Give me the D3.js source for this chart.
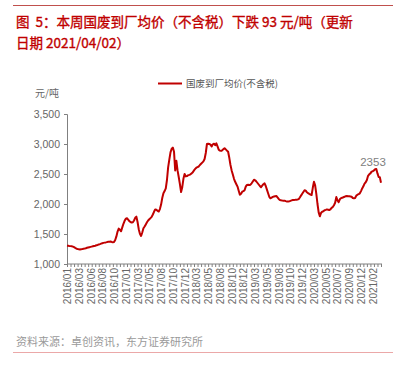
<!DOCTYPE html>
<html>
<head>
<meta charset="utf-8">
<script src="https://cdn.jsdelivr.net/npm/d3@7"></script>
<style>
  body { margin: 0; background: #fff; }
  svg text { font-family: "Liberation Sans", Arial, "Noto Sans CJK SC", sans-serif; }
  .cjk { font-family: "Noto Sans CJK SC", sans-serif; }
</style>
</head>
<body>
<div id="chart"></div>
<script>
// weekly price, yuan/ton
var price = [
  1305,1303,1300,1298,1295,1290,1280,1268,1258,1248,
  1245,1242,1245,1248,1255,1258,1263,1270,1275,1280,
  1285,1290,1295,1300,1305,1312,1318,1325,1332,1340,
  1346,1352,1356,1360,1365,1370,1372,1375,1368,1362,
  1365,1400,1460,1540,1590,1570,1545,1610,1670,1720,
  1755,1762,1740,1715,1700,1690,1695,1725,1770,1790,
  1700,1580,1505,1467,1525,1595,1625,1660,1695,1725,
  1745,1765,1785,1825,1870,1910,1905,1885,1875,1915,
  1990,2100,2180,2215,2260,2400,2610,2740,2860,2920,
  2940,2870,2560,2720,2560,2450,2330,2200,2280,2420,
  2500,2460,2465,2480,2485,2495,2510,2530,2560,2585,
  2605,2615,2625,2650,2670,2690,2710,2750,2850,3000,
  3005,3000,2990,2960,2995,3005,2980,3010,2960,2905,
  2890,2885,2895,2915,2930,2910,2890,2870,2770,2650,
  2560,2490,2420,2370,2330,2290,2220,2155,2170,2205,
  2215,2230,2290,2318,2320,2316,2322,2345,2375,2405,
  2395,2375,2350,2325,2300,2280,2305,2330,2345,2300,
  2240,2180,2120,2095,2105,2118,2125,2130,2133,2110,
  2085,2068,2062,2058,2056,2056,2048,2042,2040,2045,
  2052,2060,2066,2068,2069,2071,2075,2082,2108,2140,
  2170,2200,2230,2222,2195,2180,2168,2158,2150,2270,
  2370,2310,2170,2000,1860,1795,1850,1872,1878,1895,
  1902,1910,1905,1900,1910,1935,1950,1980,2020,2115,
  2060,2030,2078,2098,2105,2112,2120,2130,2133,2131,
  2128,2125,2120,2100,2094,2100,2140,2155,2165,2178,
  2215,2260,2295,2340,2362,2400,2470,2495,2510,2540,
  2545,2560,2578,2582,2510,2450,2446,2353
];

// one label every 10 weeks
var tickLabels = [
  "2016/01","2016/03","2016/06","2016/08","2016/10","2017/01","2017/03",
  "2017/05","2017/08","2017/10","2017/12","2018/03","2018/05","2018/08",
  "2018/10","2018/12","2019/03","2019/05","2019/08","2019/10","2019/12",
  "2020/03","2020/05","2020/07","2020/09","2020/12","2021/02"
];

var yTicks = [1000, 1500, 2000, 2500, 3000, 3500];

var seriesName = "国废到厂均价(不含税)";
var titleLines = ["图\u00a0 5：本周国废到厂均价（不含税）下跌 93 元/吨（更新", "日期 2021/04/02）"];
var sourceText = "资料来源：卓创资讯，东方证券研究所";

var width = 400, height = 370;
var red = "#c00000";

var svg = d3.select("#chart").append("svg")
    .attr("width", width)
    .attr("height", height);

// top rule + title
svg.append("line")
    .attr("x1", 13).attr("x2", 393)
    .attr("y1", 5.5).attr("y2", 5.5)
    .attr("stroke", "#c0504d").attr("stroke-width", 1);

svg.selectAll(".title")
    .data(titleLines)
  .enter().append("text")
    .attr("class", "title cjk")
    .attr("x", 16)
    .attr("y", function(d, i) { return 26.5 + i * 21; })
    .attr("fill", red)
    .attr("stroke", red)
    .attr("stroke-width", 0.35)
    .style("font-size", "13.5px")
    .text(function(d) { return d; });

// scales
var x = d3.scalePoint()
    .domain(d3.range(price.length))
    .range([67, 381]);

var y = d3.scaleLinear()
    .domain([1000, 3500])
    .range([264, 114]);

// y axis
var yAxis = svg.append("g")
    .attr("transform", "translate(67,0)")
    .call(d3.axisLeft(y).tickValues(yTicks).tickSize(3).tickPadding(4).tickFormat(d3.format(",")));
yAxis.select(".domain").attr("stroke", "#808080");
yAxis.selectAll(".tick line").attr("stroke", "#808080");
yAxis.selectAll("text").attr("fill", "#666").style("font-size", "10.5px");

svg.append("text")
    .attr("class", "cjk")
    .attr("x", 35).attr("y", 97)
    .attr("fill", "#666")
    .style("font-size", "10px")
    .text("元/吨");

// x axis: minor ticks
var xMinor = svg.append("g")
    .attr("transform", "translate(0,264)")
    .call(d3.axisBottom(x).tickValues(d3.range(0, price.length, 3)).tickSize(3).tickFormat(""));
xMinor.select(".domain").attr("stroke", "#808080").attr("d", "M67,0H382");
xMinor.selectAll(".tick line").attr("stroke", "#808080");

// x axis labels
var xAxis = svg.append("g")
    .attr("transform", "translate(0,264)")
    .call(d3.axisBottom(x)
      .tickValues(d3.range(0, price.length, 10))
      .tickSize(0)
      .tickFormat(function(i) { return tickLabels[i / 10]; }));
xAxis.select(".domain").remove();
xAxis.selectAll("text")
    .attr("transform", "rotate(-90)")
    .attr("x", -4)
    .attr("y", 0)
    .attr("dy", "0.35em")
    .style("text-anchor", "end")
    .attr("fill", "#666")
    .style("font-size", "10px");

// line
var line = d3.line()
    .x(function(d, i) { return x(i); })
    .y(function(d) { return y(d); });

svg.append("path")
    .datum(price)
    .attr("fill", "none")
    .attr("stroke", red)
    .attr("stroke-width", 2)
    .attr("stroke-linejoin", "round")
    .attr("d", line);

// last value label
var last = price.length - 1;
svg.append("text")
    .attr("x", x(last) - 8)
    .attr("y", y(price[last]) - 17)
    .attr("text-anchor", "middle")
    .attr("fill", "#808080")
    .style("font-size", "11.5px")
    .text(price[last]);

// legend
svg.append("line")
    .attr("x1", 158).attr("x2", 182)
    .attr("y1", 83.5).attr("y2", 83.5)
    .attr("stroke", red).attr("stroke-width", 2);
svg.append("text")
    .attr("class", "cjk")
    .attr("x", 186).attr("y", 87)
    .attr("fill", "#555")
    .style("font-size", "9.5px")
    .text(seriesName);

// source + bottom rule
svg.append("text")
    .attr("class", "cjk")
    .attr("x", 16).attr("y", 346)
    .attr("fill", "#9a9a9a")
    .style("font-size", "11px")
    .text(sourceText);

svg.append("line")
    .attr("x1", 13).attr("x2", 393)
    .attr("y1", 352.5).attr("y2", 352.5)
    .attr("stroke", "#eba8a8").attr("stroke-width", 1);
</script>
</body>
</html>
